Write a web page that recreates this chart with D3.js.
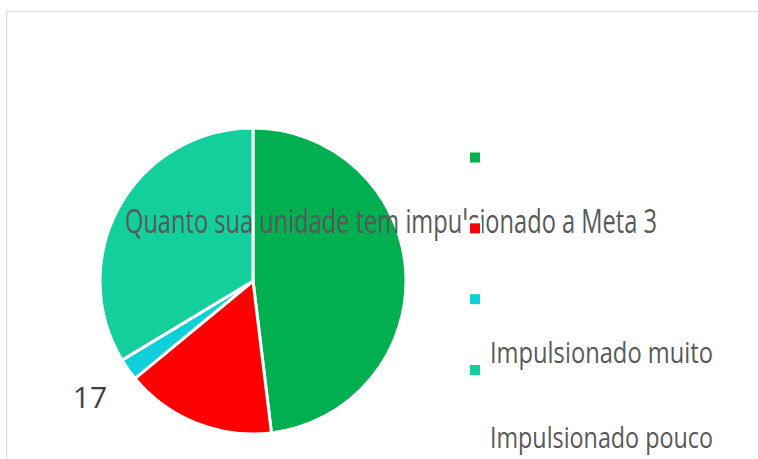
<!DOCTYPE html>
<html><head><meta charset="utf-8">
<script src="https://cdn.jsdelivr.net/npm/d3@7"></script>
<style>html,body{margin:0;padding:0;background:#fff;overflow:hidden}</style>
</head><body>
<svg id="c" width="758" height="459"></svg>
<script>
const categories = ["", "", "Impulsionado muito", "Impulsionado pouco"];
const values = [350, 116, 17, 245];
const colors = ["#00B050", "#FF0000", "#0FCFDA", "#12CF9B"];
const dataLabels = ["", "", "17", ""];
const title = "Quanto sua unidade tem impulsionado a Meta 3";

const svg = d3.select("#c");
svg.append("rect").attr("x",6.5).attr("y",11.5).attr("width",800).attr("height",500)
  .attr("fill","#fff").attr("stroke","#d9d9d9").attr("stroke-width",1);

const cx = 253, cy = 281, R = 153;
const pie = d3.pie().sort(null).value(d=>d);
const arcs = pie(values);
const arc = d3.arc().innerRadius(0).outerRadius(R);
const g = svg.append("g").attr("transform",`translate(${cx},${cy})`);
g.selectAll("path").data(arcs).join("path")
  .attr("d",arc).attr("fill",(d,i)=>colors[i])
  .attr("stroke","#fff").attr("stroke-width",3).attr("stroke-linejoin","round");

const labelArc = d3.arc().innerRadius(200).outerRadius(200);
g.selectAll("text.dl").data(arcs).join("text").attr("class","dl")
  .attr("x",d=>labelArc.centroid(d)[0]).attr("y",d=>labelArc.centroid(d)[1])
  .attr("dy","0.36em").attr("text-anchor","middle")
  .attr("font-family","Open Sans, sans-serif").attr("font-size",30)
  .attr("fill","#404040").text((d,i)=>dataLabels[i]);

// title
svg.append("text").attr("x",125).attr("y",233)
  .attr("font-family","Open Sans, sans-serif").attr("font-size",32)
  .attr("fill","#595959").attr("textLength",532).attr("lengthAdjust","spacingAndGlyphs")
  .text(title);

// legend
const my = d3.scalePoint().domain(d3.range(categories.length)).range([157.5, 370]);
const ty = d3.scalePoint().domain(d3.range(categories.length)).range([193, 448]);
const lg = svg.append("g");
const items = lg.selectAll("g").data(categories).join("g");
items.append("rect").attr("x",462).attr("y",(d,i)=>my(i)-8.5).attr("width",20).attr("height",21).attr("fill","#fff");
items.append("rect").attr("x",470).attr("y",(d,i)=>my(i)-5).attr("width",10).attr("height",10).attr("fill",(d,i)=>colors[i]);
items.filter(d=>d).append("text").attr("x",490).attr("y",(d,i)=>ty(categories.indexOf(d)))
  .attr("font-family","Open Sans, sans-serif").attr("font-size",30).attr("fill","#595959")
  .attr("textLength",223).attr("lengthAdjust","spacingAndGlyphs").text(d=>d);
</script>
</body></html>
